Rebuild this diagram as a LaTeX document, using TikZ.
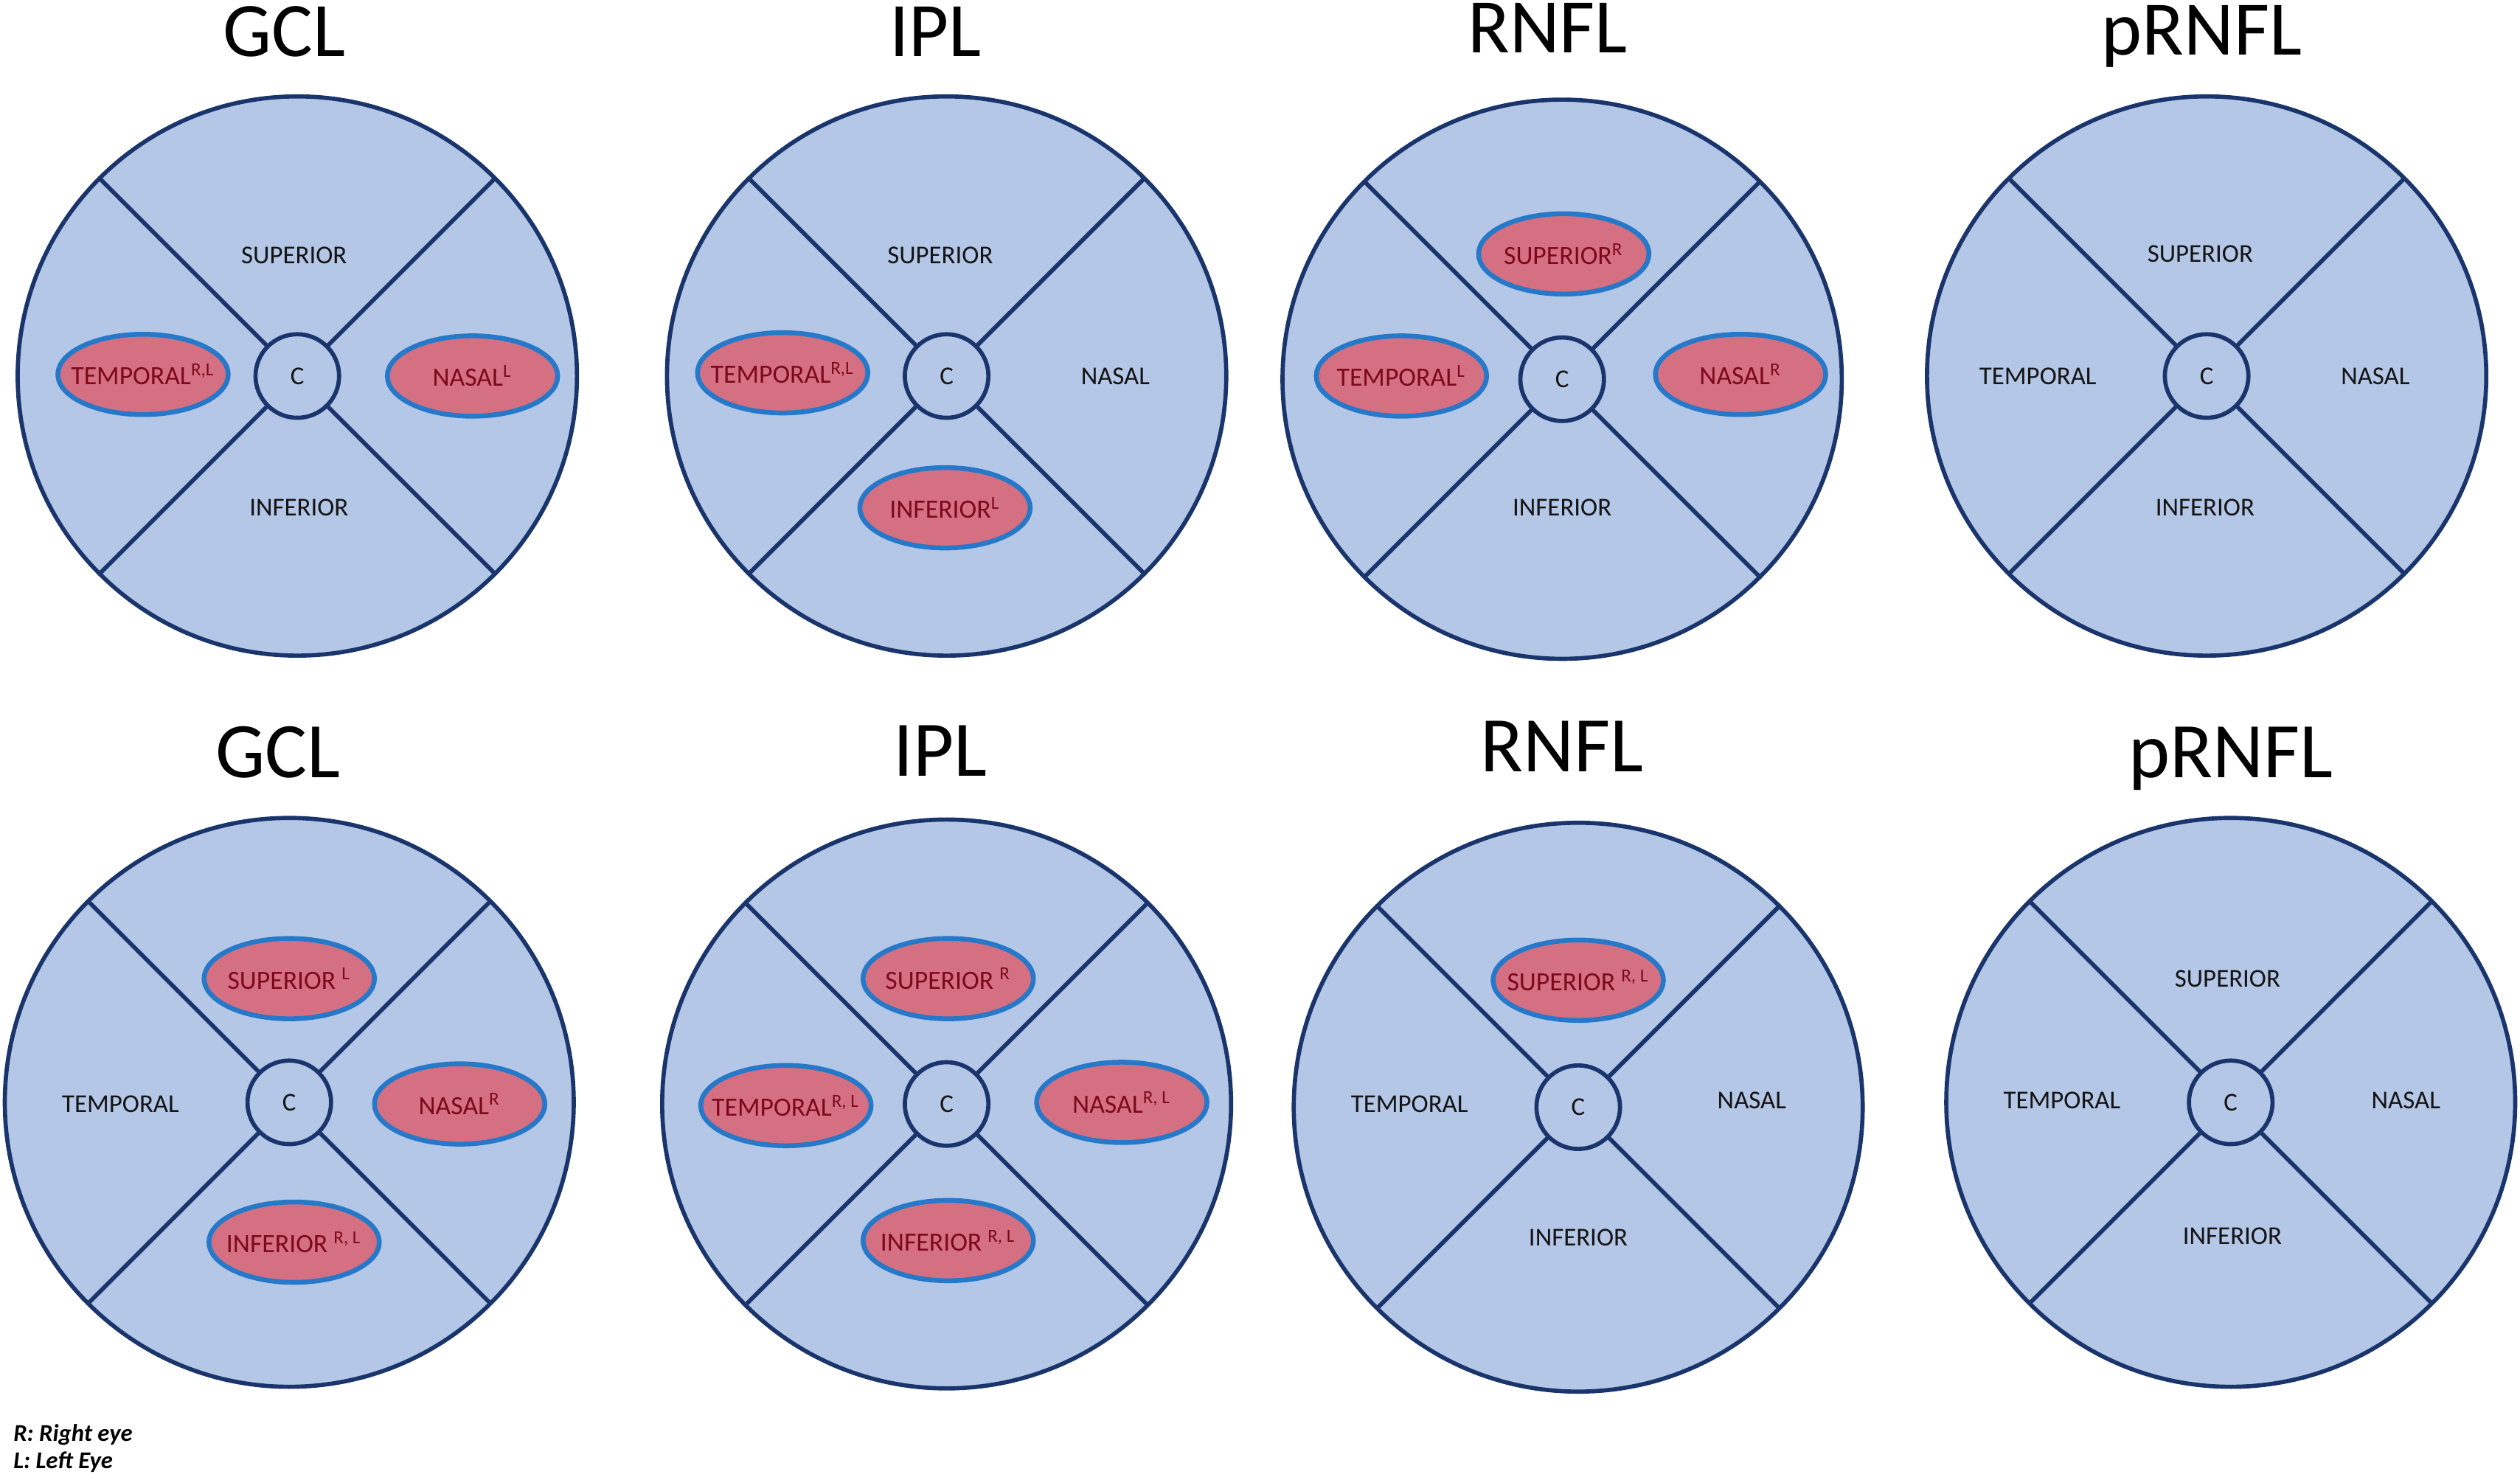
\documentclass[tikz,border=0pt]{standalone}
\usepackage{fontspec}
\setmainfont{Carlito}
\usetikzlibrary{shapes.geometric}
\definecolor{navy}{RGB}{26,52,108}
\definecolor{paleblue}{RGB}{180,199,231}
\definecolor{hotfill}{RGB}{213,112,130}
\definecolor{hotedge}{RGB}{38,120,200}
\definecolor{hottext}{RGB}{125,8,28}
\definecolor{lbltext}{RGB}{20,20,20}
\newcommand\eyepanel[4]{% name, cx, cy, diameter (pt)
  \node[outerring, minimum size=#4] (#1o) at (#2,#3) {};
  \node[core] (#1c) at (#2,#3) {C};
  \foreach \ang in {45,135,225,315} \draw[seg] (#1c.\ang) -- (#1o.\ang);
}
\newcommand\hotlbl[3]{\node[hot] (#1) at (#2) {\makebox[0pt]{#3}};}
\newcommand\plainlbl[3]{\node[lbl] (#1) at (#2) {#3};}
\begin{document}
\begin{tikzpicture}[x=0.5pt,y=-0.5pt,
  outerring/.style={circle, draw=navy, fill=paleblue, line width=1.3pt, inner sep=0pt, outer sep=0pt},
  core/.style={circle, draw=navy, fill=paleblue, line width=1.3pt, inner sep=0pt, outer sep=0pt, minimum size=26pt, font=\fontsize{8}{9}\selectfont, text=lbltext},
  seg/.style={draw=navy, line width=1.3pt},
  lbl/.style={font=\fontsize{8}{9}\selectfont, text=lbltext, inner sep=0pt},
  hot/.style={ellipse, draw=hotedge, fill=hotfill, line width=1.5pt, inner sep=0pt, minimum width=53pt, minimum height=25pt, font=\fontsize{8.2}{9}\selectfont, text=hottext},
  ttl/.style={font=\fontsize{24}{28}\selectfont, anchor=base, inner sep=0pt},
  ttlb/.style={font=\fontsize{24.5}{28}\selectfont, anchor=base, inner sep=0pt},
  legend/.style={font=\fontsize{7.5}{8}\bfseries\itshape\selectfont, anchor=base west, inner sep=0pt}]
\useasboundingbox (0,0) rectangle (1568,919);
% ---------- titles ----------
\node[ttl] (tgcl) at (177,35) {GCL};
\node[ttl] (tipl) at (582,35) {IPL};
\node[ttl] (trnfl) at (963,33) {RNFL};
\node[ttl] (tprnfl) at (1370,34) {pRNFL};
\node[ttlb] (bgcl) at (173,484) {GCL};
\node[ttlb] (bipl) at (585,483) {IPL};
\node[ttlb] (brnfl) at (972,480) {RNFL};
\node[ttlb] (bprnfl) at (1388,484) {pRNFL};
% ---------- top row ----------
\eyepanel{pa}{185}{234}{174pt}
\plainlbl{paS}{183,159}{SUPERIOR}
\plainlbl{paI}{186,316}{INFERIOR}
\hotlbl{paT}{89,233}{TEMPORAL\textsuperscript{R,L}}
\hotlbl{paN}{294,234}{NASAL\textsuperscript{L}}

\eyepanel{pb}{589}{234}{174pt}
\plainlbl{pbS}{585,159}{SUPERIOR}
\hotlbl{pbT}{487,232}{TEMPORAL\textsuperscript{R,L}}
\plainlbl{pbN}{694,234}{NASAL}
\hotlbl{pbI}{588,316}{INFERIOR\textsuperscript{L}}

\eyepanel{pc}{972}{236}{174pt}
\hotlbl{pcS}{973,158}{SUPERIOR\textsuperscript{R}}
\hotlbl{pcT}{872,234}{TEMPORAL\textsuperscript{L}}
\hotlbl{pcN}{1083,233}{NASAL\textsuperscript{R}}
\plainlbl{pcI}{972,316}{INFERIOR}

\eyepanel{pd}{1373}{234}{174pt}
\plainlbl{pdS}{1369,158}{SUPERIOR}
\plainlbl{pdT}{1268,234}{TEMPORAL}
\plainlbl{pdN}{1478,234}{NASAL}
\plainlbl{pdI}{1372,316}{INFERIOR}
% ---------- bottom row ----------
\eyepanel{qa}{180}{686}{177pt}
\hotlbl{qaS}{180,609}{SUPERIOR \textsuperscript{L}}
\plainlbl{qaT}{75,687}{TEMPORAL}
\hotlbl{qaN}{286,687}{NASAL\textsuperscript{R}}
\hotlbl{qaI}{183,773}{INFERIOR \textsuperscript{R, L}}

\eyepanel{qb}{589}{687}{177pt}
\hotlbl{qbS}{590,609}{SUPERIOR \textsuperscript{R}}
\hotlbl{qbT}{489,688}{TEMPORAL\textsuperscript{R, L}}
\hotlbl{qbN}{698,686}{NASAL\textsuperscript{R, L}}
\hotlbl{qbI}{590,772}{INFERIOR \textsuperscript{R, L}}

\eyepanel{qc}{982}{689}{177pt}
\hotlbl{qcS}{982,610}{SUPERIOR \textsuperscript{R, L}}
\plainlbl{qcT}{877,687}{TEMPORAL}
\plainlbl{qcN}{1090,685}{NASAL}
\plainlbl{qcI}{982,770}{INFERIOR}

\eyepanel{qd}{1388}{686}{177pt}
\plainlbl{qdS}{1386,609}{SUPERIOR}
\plainlbl{qdT}{1283,685}{TEMPORAL}
\plainlbl{qdN}{1497,685}{NASAL}
\plainlbl{qdI}{1389,769}{INFERIOR}
% ---------- legend ----------
\node[legend] (legR) at (8,897) {R: Right eye};
\node[legend] (legL) at (8,914) {L: Left Eye};
\end{tikzpicture}
\end{document}
